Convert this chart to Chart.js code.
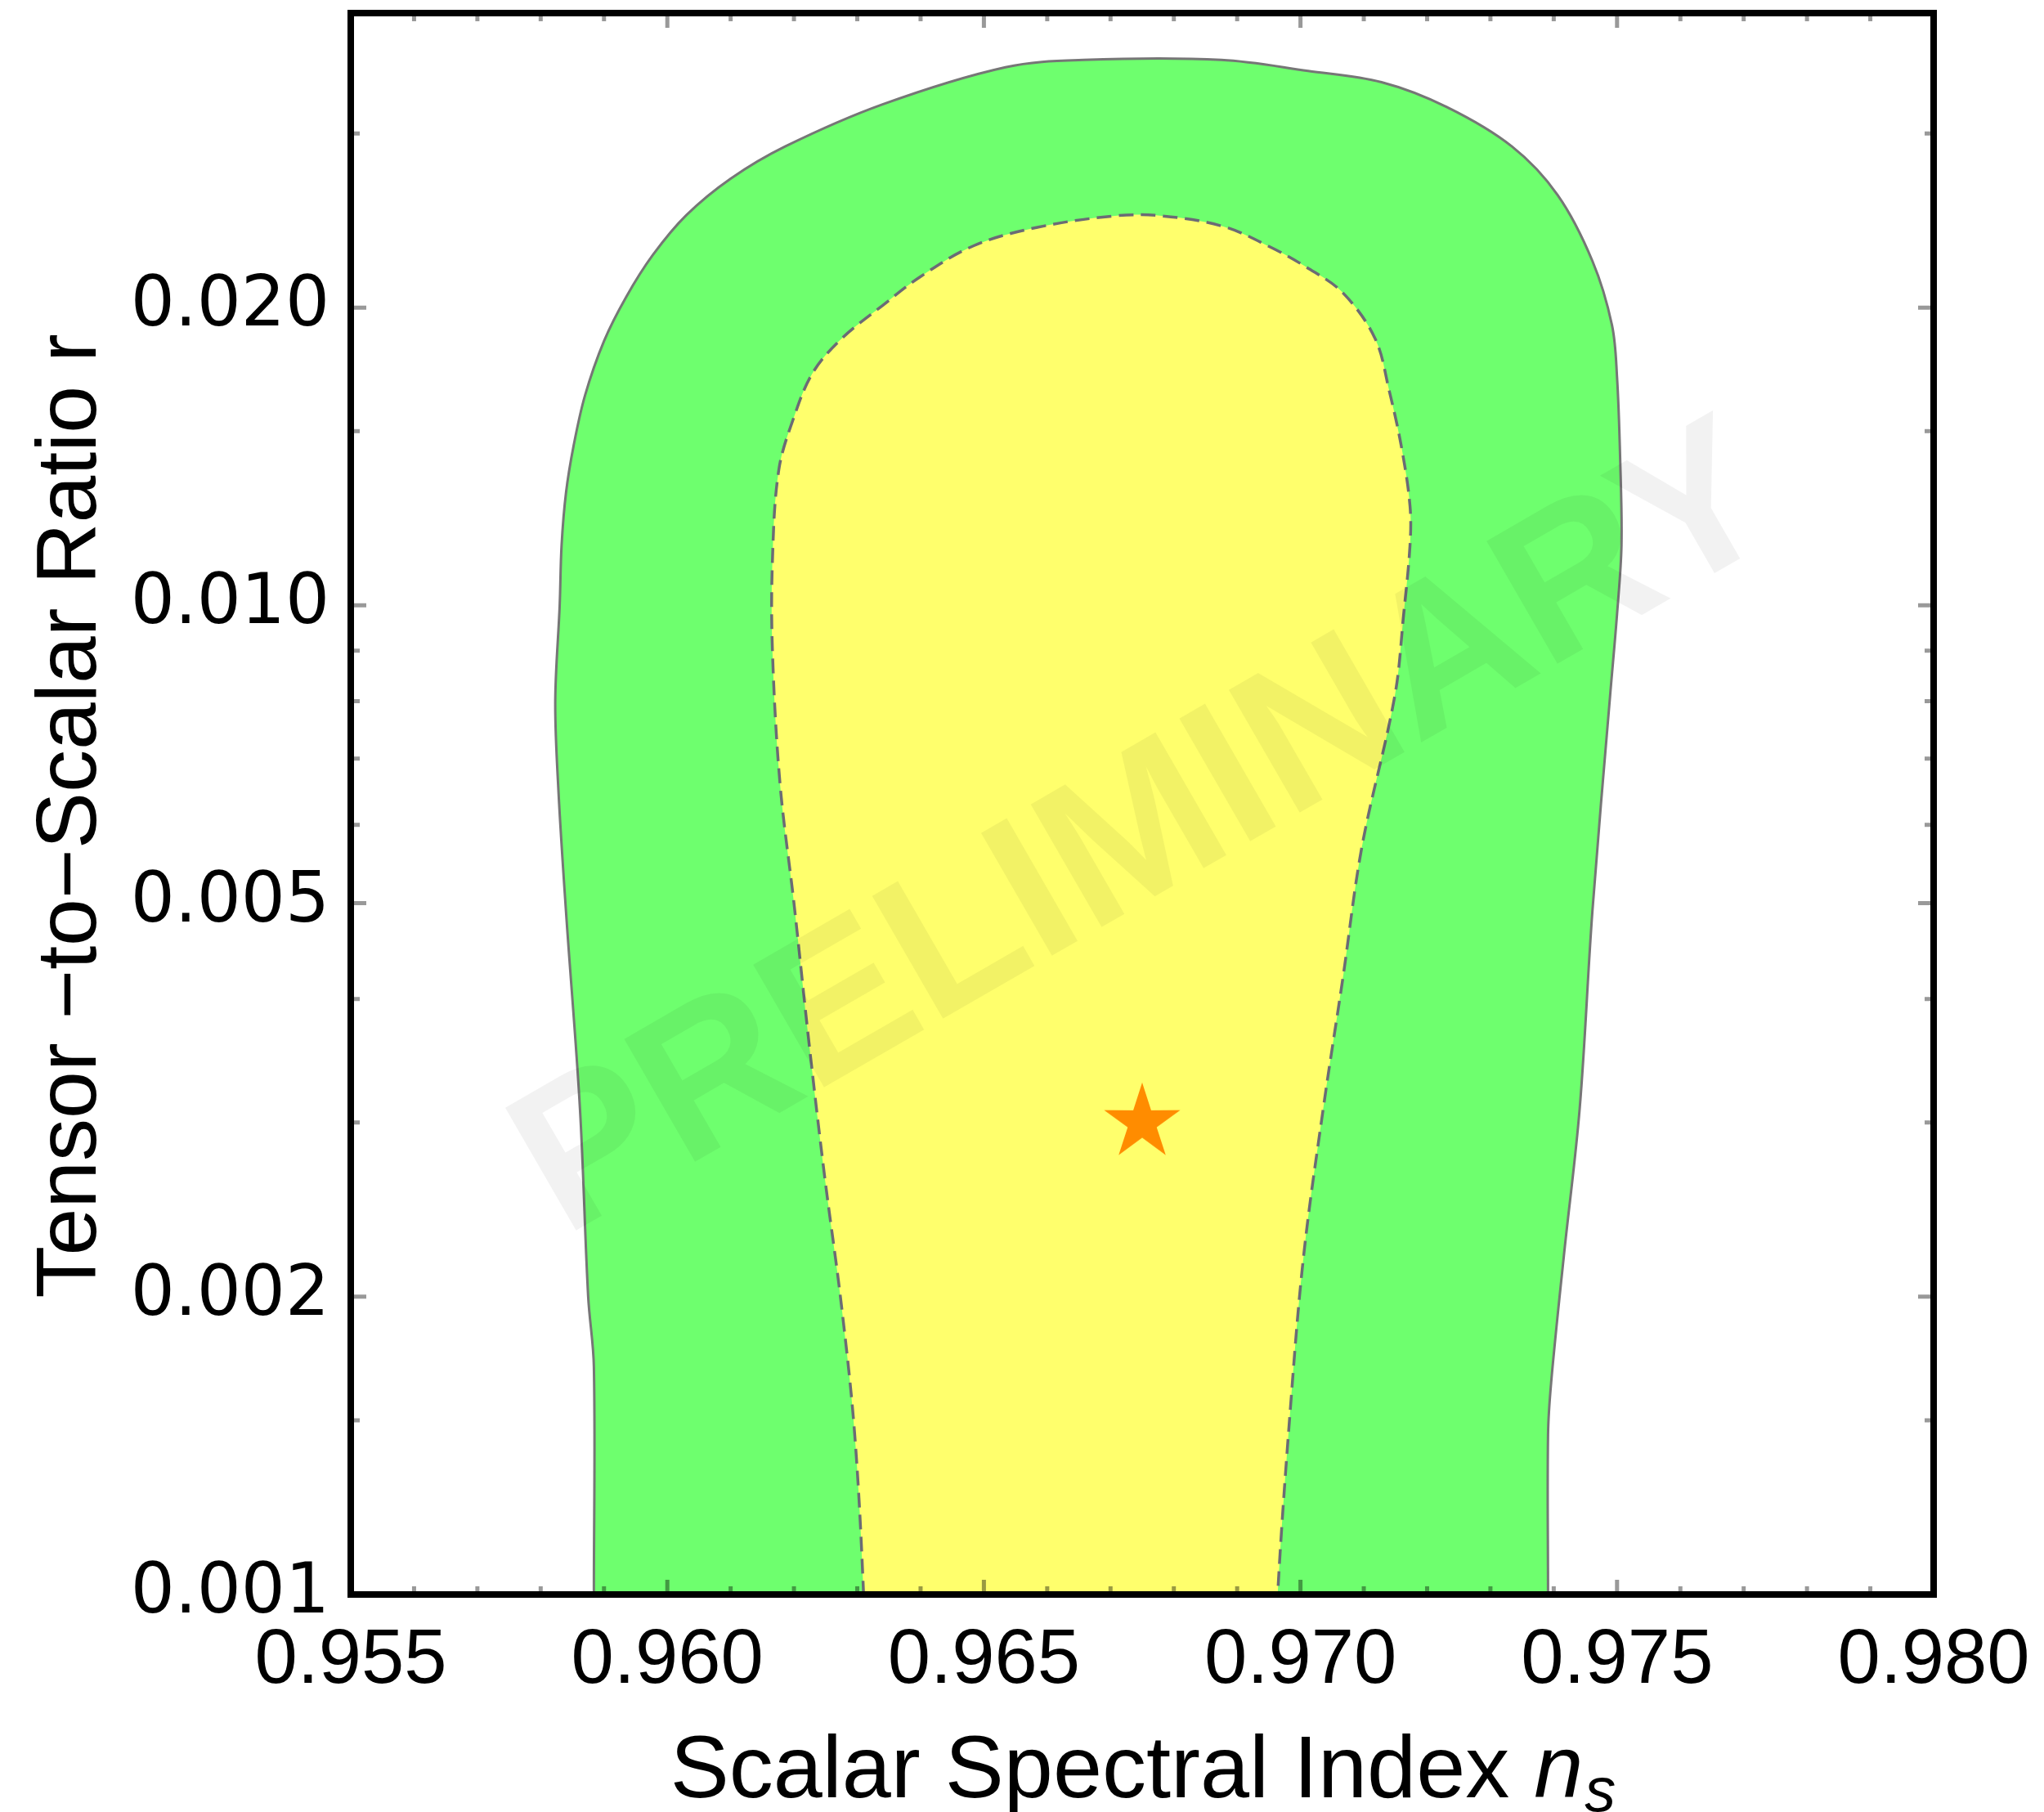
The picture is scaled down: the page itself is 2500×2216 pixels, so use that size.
<!DOCTYPE html>
<html>
<head>
<meta charset="utf-8">
<script src="https://cdn.jsdelivr.net/npm/chart.js@4.4.0/dist/chart.umd.min.js"></script>
<style>
  html, body { margin: 0; padding: 0; background: #fff; }
  #wrap { width: 2500px; height: 2216px; }
</style>
</head>
<body>
<div id="wrap"><canvas id="grafico"></canvas></div>
<script>
// 95% contour (outer, green) - ns and r
const outerNs = [0.95884, 0.95884, 0.95884, 0.95875, 0.95862, 0.95840, 0.95828, 0.95823, 0.95830, 0.95833,
                 0.95840, 0.95852, 0.95870, 0.95900, 0.95935, 0.95977, 0.96030, 0.96100, 0.96186, 0.96340, 0.96534,
                 0.96657, 0.96875, 0.97012, 0.97128, 0.97231, 0.97334, 0.97406, 0.97461, 0.97492, 0.97500,
                 0.97505, 0.97507, 0.97500, 0.97489, 0.97461, 0.97441, 0.97416, 0.97396, 0.97391, 0.97391, 0.97391];
const outerR  = [0.0009, 0.0010, 0.0017, 0.0020, 0.0031, 0.0049, 0.0065, 0.0080, 0.0100, 0.0115,
                 0.0130, 0.0145, 0.0163, 0.0185, 0.0205, 0.0226, 0.0248, 0.0270, 0.0291, 0.0321, 0.0350,
                 0.0356, 0.0356, 0.0347, 0.0338, 0.0319, 0.0291, 0.0260, 0.0223, 0.0192, 0.0170,
                 0.0140, 0.0115, 0.0098, 0.0081, 0.0049, 0.0031, 0.0022, 0.00164, 0.00145, 0.0010, 0.0009];

// 68% contour (inner, yellow, dashed)
const innerNs = [0.96310, 0.96310, 0.96296, 0.96275, 0.96248, 0.96224, 0.96200, 0.96178, 0.96166, 0.96166,
                 0.96176, 0.96200, 0.96230, 0.96275, 0.96340, 0.96400, 0.96484, 0.96583, 0.96707, 0.96781,
                 0.96879, 0.96954, 0.97008, 0.97067, 0.97118, 0.97140, 0.97160, 0.97173, 0.97173, 0.97163,
                 0.97149, 0.97097, 0.97067, 0.97036, 0.97005, 0.96984, 0.96964, 0.96964];
const innerR  = [0.0009, 0.0010, 0.00145, 0.00196, 0.00266, 0.0036, 0.0050, 0.0066, 0.0090, 0.0111,
                 0.0137, 0.0155, 0.0172, 0.0186, 0.0201, 0.0215, 0.0231, 0.0241, 0.02476, 0.02476,
                 0.02415, 0.0230, 0.0220, 0.0207, 0.0186, 0.0165, 0.0144, 0.0126, 0.0115, 0.0098,
                 0.0081, 0.0057, 0.0042, 0.0031, 0.0022, 0.00154, 0.0010, 0.0009];

// best fit point
const bestNs = [0.9675];
const bestR  = [0.0030];

// ticks
const xTickValues = [0.955, 0.960, 0.965, 0.970, 0.975, 0.980];
const xTickLabels = ['0.955', '0.960', '0.965', '0.970', '0.975', '0.980'];
const xMinorTicks = [0.956, 0.957, 0.958, 0.959, 0.961, 0.962, 0.963, 0.964, 0.966, 0.967, 0.968, 0.969,
                     0.971, 0.972, 0.973, 0.974, 0.976, 0.977, 0.978, 0.979];
const yTickValues = [0.001, 0.002, 0.005, 0.010, 0.020];
const yTickLabels = ['0.001', '0.002', '0.005', '0.010', '0.020'];
const yMinorTicks = [0.0015, 0.003, 0.004, 0.006, 0.007, 0.008, 0.009, 0.015, 0.030];

const pontos = (xs, ys) => xs.map((v, i) => ({ x: v, y: ys[i] }));

// estrela preenchida para o melhor ajuste
function fazEstrela(R, cor) {
    const c = document.createElement('canvas');
    c.width = c.height = 2 * R + 2;
    const g = c.getContext('2d');
    g.fillStyle = cor;
    g.beginPath();
    for (let i = 0; i < 10; i++) {
        const raio = i % 2 ? R * 0.38 : R;
        const ang = -Math.PI / 2 + i * Math.PI / 5;
        g.lineTo(R + 1 + raio * Math.cos(ang), R + 1 + raio * Math.sin(ang));
    }
    g.closePath();
    g.fill();
    return c;
}

// sem folga extra dos rotulos: a area do grafico fica onde queremos
function semFolga(scale) {
    scale.paddingTop = 0;
    scale.paddingBottom = 0;
    scale.paddingLeft = 0;
    scale.paddingRight = 0;
}

const moldura = {
    id: 'moldura',
    afterDatasetsDraw(chart) {
        const { ctx, chartArea: a, scales: { x, y } } = chart;
        ctx.save();

        // marca d'agua
        ctx.translate(a.left + 0.521 * (a.right - a.left), a.top + 0.551 * (a.bottom - a.top));
        ctx.rotate(-30 * Math.PI / 180);
        ctx.font = 'bold 252px "Liberation Sans", Arial, sans-serif';
        ctx.textAlign = 'center';
        ctx.textBaseline = 'alphabetic';
        ctx.fillStyle = 'rgba(0, 0, 0, 0.05)';
        ctx.fillText('PRELIMINARY', 0, 0);
        ctx.restore();

        // tracinhos para dentro, nos quatro lados
        ctx.save();
        ctx.beginPath();
        ctx.rect(a.left, a.top, a.right - a.left, a.bottom - a.top);
        ctx.clip();
        ctx.globalCompositeOperation = 'multiply';
        ctx.strokeStyle = '#999999';
        ctx.lineWidth = 5;
        const tx = (v, L) => {
            const p = x.getPixelForValue(v);
            ctx.beginPath();
            ctx.moveTo(p, a.bottom); ctx.lineTo(p, a.bottom - L);
            ctx.moveTo(p, a.top); ctx.lineTo(p, a.top + L);
            ctx.stroke();
        };
        const ty = (v, L) => {
            const p = y.getPixelForValue(v);
            ctx.beginPath();
            ctx.moveTo(a.left, p); ctx.lineTo(a.left + L, p);
            ctx.moveTo(a.right, p); ctx.lineTo(a.right - L, p);
            ctx.stroke();
        };
        xTickValues.forEach(v => tx(v, 18));
        xMinorTicks.forEach(v => tx(v, 10));
        yTickValues.forEach(v => ty(v, 19));
        yMinorTicks.forEach(v => ty(v, 11));
        ctx.restore();

        // borda
        ctx.save();
        ctx.strokeStyle = '#000';
        ctx.lineWidth = 8;
        ctx.strokeRect(a.left, a.top, a.right - a.left, a.bottom - a.top);
        ctx.restore();
    },
    afterDraw(chart) {
        const { ctx, chartArea: a } = chart;
        ctx.save();
        ctx.fillStyle = '#000';

        // titulo eixo y
        ctx.save();
        ctx.translate(117, (a.top + a.bottom) / 2 + 15);
        ctx.rotate(-Math.PI / 2);
        ctx.font = '104px "Liberation Sans", Arial, sans-serif';
        ctx.textAlign = 'center';
        ctx.textBaseline = 'alphabetic';
        ctx.fillText('Tensor \u2212to\u2212Scalar Ratio r', 0, 0);
        ctx.restore();

        // titulo eixo x com n_s
        const base = 2198;
        const t1 = 'Scalar Spectral Index ';
        ctx.font = '108px "Liberation Sans", Arial, sans-serif';
        const w1 = ctx.measureText(t1).width;
        ctx.font = 'italic 108px "Liberation Sans", Arial, sans-serif';
        const wn = ctx.measureText('n').width;
        ctx.font = 'italic 76px "Liberation Sans", Arial, sans-serif';
        const ws = ctx.measureText('s').width;
        let x0 = (a.left + a.right) / 2 - (w1 + wn + ws) / 2;
        ctx.textAlign = 'left';
        ctx.textBaseline = 'alphabetic';
        ctx.font = '108px "Liberation Sans", Arial, sans-serif';
        ctx.fillText(t1, x0, base);
        ctx.font = 'italic 108px "Liberation Sans", Arial, sans-serif';
        ctx.fillText('n', x0 + w1, base);
        ctx.font = 'italic 76px "Liberation Sans", Arial, sans-serif';
        ctx.fillText('s', x0 + w1 + wn + 2, base + 17);
        ctx.restore();
    }
};

const ctx = document.getElementById('grafico').getContext('2d');
const contornoChart = new Chart(ctx, {
    type: 'scatter',
    data: {
        datasets: [{
            label: 'best fit',
            data: pontos(bestNs, bestR),
            pointStyle: fazEstrela(49, '#ff8c00'),
            pointRadius: 49,
            showLine: false
        },
        {
            label: '68%',
            data: pontos(innerNs, innerR),
            showLine: true,
            fill: 'shape',
            backgroundColor: '#ffff6c',
            borderColor: '#6b6b75',
            borderWidth: 3.5,
            borderDash: [18, 9],
            tension: 0.35,
            pointRadius: 0
        },
        {
            label: '95%',
            data: pontos(outerNs, outerR),
            showLine: true,
            fill: 'shape',
            backgroundColor: '#6eff6e',
            borderColor: '#767676',
            borderWidth: 3,
            tension: 0.35,
            pointRadius: 0
        }]
    },
    options: {
        responsive: true,
        maintainAspectRatio: false,
        animation: false,
        devicePixelRatio: 1,
        layout: { autoPadding: false, padding: { top: 16, right: 135, left: 0, bottom: 0 } },
        plugins: {
            legend: { display: false },
            tooltip: { enabled: false }
        },
        scales: {
            x: {
                type: 'linear',
                min: 0.955,
                max: 0.980,
                grid: { display: false },
                border: { display: false },
                afterBuildTicks: function(scale) {
                    scale.ticks = xTickValues.map(v => ({ value: v }));
                },
                afterFit: function(scale) { scale.height = 266; semFolga(scale); },
                ticks: {
                    padding: 18,
                    color: '#000',
                    maxRotation: 0,
                    font: { family: '"Liberation Sans", Arial, sans-serif', size: 94 },
                    callback: function(value, index) { return xTickLabels[index]; }
                }
            },
            y: {
                type: 'logarithmic',
                min: 0.001,
                max: 0.0397,
                grid: { display: false },
                border: { display: false },
                afterBuildTicks: function(scale) {
                    scale.ticks = yTickValues.map(v => ({ value: v }));
                },
                afterFit: function(scale) { scale.width = 429; semFolga(scale); },
                ticks: {
                    padding: 18,
                    color: '#000',
                    font: { family: '"DejaVu Sans", sans-serif', size: 85 },
                    callback: function(value, index) { return yTickLabels[index]; }
                }
            }
        }
    },
    plugins: [moldura]
});
</script>
</body>
</html>
